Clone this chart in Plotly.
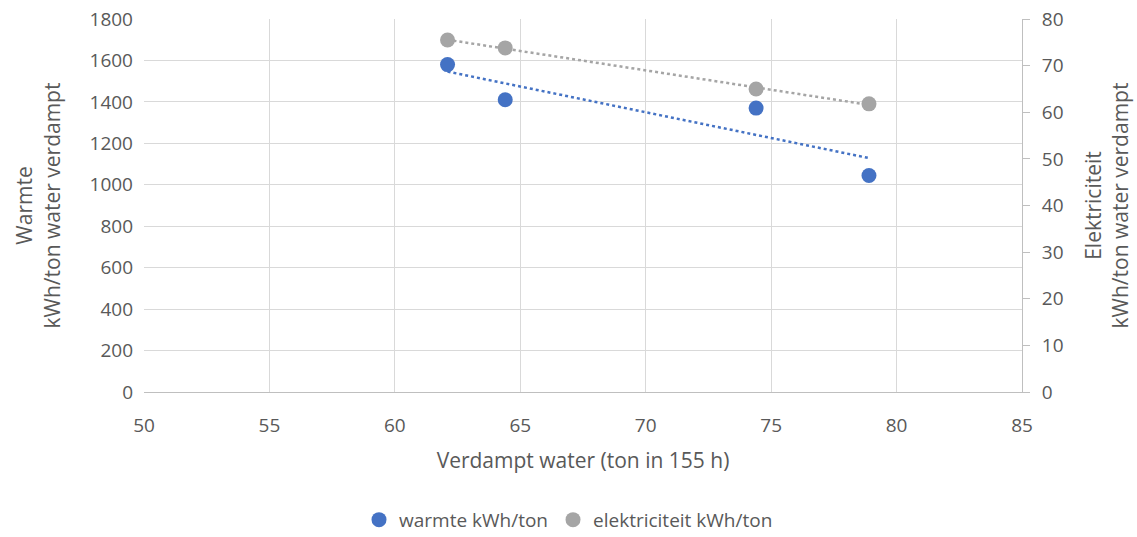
import numpy as np
import plotly.graph_objects as go

# Evaporated water (ton in 155 h)
water = [62.1, 64.4, 74.4, 78.9]
# Specific heat use, kWh per ton water evaporated
warmte = [1580, 1410, 1370, 1045]
# Specific electricity use, kWh per ton water evaporated
elektriciteit = [75.5, 73.8, 65.0, 61.8]

x_ticks = [50, 55, 60, 65, 70, 75, 80, 85]
y1_ticks = [0, 200, 400, 600, 800, 1000, 1200, 1400, 1600, 1800]
y2_ticks = [0, 10, 20, 30, 40, 50, 60, 70, 80]

BLUE = "#4472C4"
GREY = "#A5A5A5"
TXT = "#595959"
GRID = "#D9D9D9"
FONT = "Open Sans"


def trend(xs, ys):
    k, b = np.polyfit(xs, ys, 1)
    xe = np.array([min(xs), max(xs)])
    return xe, k * xe + b


fig = go.Figure()

tx, ty = trend(water, warmte)
fig.add_trace(go.Scatter(x=tx, y=ty, mode="lines", showlegend=False,
                         line=dict(color=BLUE, width=2.5, dash="dot"),
                         hoverinfo="skip"))
ex, ey = trend(water, elektriciteit)
fig.add_trace(go.Scatter(x=ex, y=ey, mode="lines", showlegend=False, yaxis="y2",
                         line=dict(color=GREY, width=2.5, dash="dot"),
                         hoverinfo="skip"))

fig.add_trace(go.Scatter(x=water, y=warmte, mode="markers", name="warmte kWh/ton",
                         marker=dict(color=BLUE, size=15)))
fig.add_trace(go.Scatter(x=water, y=elektriciteit, mode="markers", yaxis="y2",
                         name="elektriciteit kWh/ton",
                         marker=dict(color=GREY, size=15)))

fig.update_layout(
    width=1137, height=537,
    margin=dict(l=144, r=115, t=19, b=145, autoexpand=False),
    paper_bgcolor="white", plot_bgcolor="white",
    font=dict(family=FONT, size=19, color=TXT),
    xaxis=dict(range=[50, 85], tickvals=x_ticks, showgrid=True, gridcolor=GRID,
               gridwidth=1, zeroline=False, showline=True, linecolor="#BFBFBF",
               linewidth=1, ticks="", ticklabelstandoff=16,
               tickfont=dict(size=19),
               title=dict(text="Verdampt water (ton in 155 h)", standoff=16,
                          font=dict(size=21, color=TXT))),
    yaxis=dict(range=[0, 1800], tickvals=y1_ticks, showgrid=True, gridcolor=GRID,
               zeroline=False, showline=False, ticks="", ticklabelstandoff=10,
               tickfont=dict(size=19),
               title=dict(text="Warmte<br>kWh/ton water verdampt", standoff=23,
                          font=dict(size=21, color=TXT))),
    yaxis2=dict(range=[0, 80], tickvals=y2_ticks, overlaying="y", side="right",
                showgrid=False, zeroline=False, showline=True, linecolor="#BFBFBF",
                ticks="outside", ticklen=7, tickcolor="#BFBFBF", ticklabelstandoff=8,
                tickfont=dict(size=19),
                title=dict(text="Elektriciteit<br>kWh/ton water verdampt", standoff=23,
                           font=dict(size=21, color=TXT))),
    legend=dict(orientation="h", x=0.5, xanchor="center", xref="container",
                y=0.032, yanchor="middle", yref="container",
                font=dict(size=19, color=TXT), itemsizing="trace"),
)

fig.write_html("out.html")
